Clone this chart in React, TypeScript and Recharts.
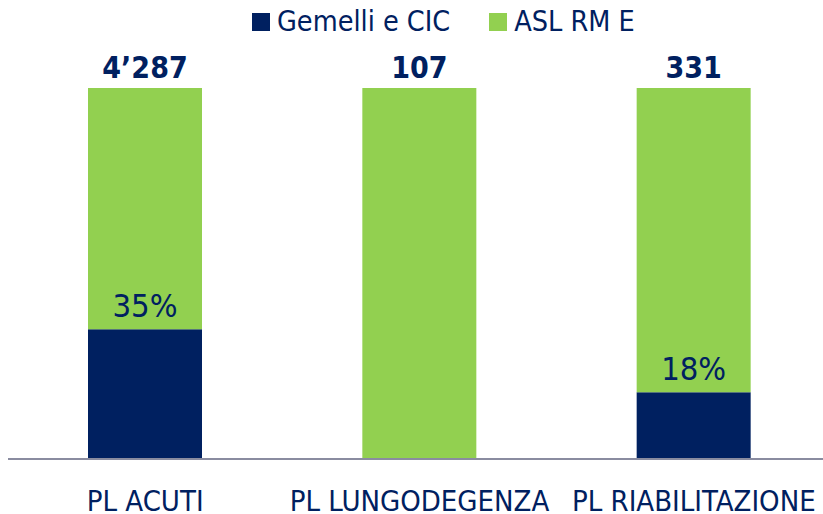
import { BarChart, Bar, XAxis, YAxis, Legend, LabelList } from "recharts";

const categories = ["PL ACUTI", "PL LUNGODEGENZA", "PL RIABILITAZIONE"];
const gemelliShare = [0.35, 0, 0.18];
const aslShare = [0.65, 1, 0.82];
const totals = ["4’287", "107", "331"];
const shareLabels = ["35%", "", "18%"];

const seriesNames = { gemelli: "Gemelli e CIC", asl: "ASL RM E" };

const NAVY = "#002060";
const GREEN = "#92d050";
const FONT = "'Liberation Sans Narrow', 'DejaVu Sans Condensed', Roboto, sans-serif";

const data = categories.map((name, i) => ({
  name,
  gemelli: gemelliShare[i],
  asl: aslShare[i],
  total: totals[i],
  pct: shareLabels[i],
}));

function LegendBox() {
  const items = [
    { label: seriesNames.gemelli, color: NAVY },
    { label: seriesNames.asl, color: GREEN },
  ];
  return (
    <div style={{ height: 88, position: "relative", fontFamily: FONT }}>
      <div style={{ position: "absolute", left: 252, top: 4, display: "flex", alignItems: "center", height: 36 }}>
        {items.map((it, i) => (
          <div key={it.label} style={{ display: "flex", alignItems: "center", marginRight: i === 0 ? 39 : 0 }}>
            <span style={{ width: 18, height: 18, background: it.color, display: "inline-block", marginRight: 7 }} />
            <span style={{ fontSize: 28.5, color: NAVY, lineHeight: "36px" }}>{it.label}</span>
          </div>
        ))}
      </div>
    </div>
  );
}

const TotalLabel = (props: any) => {
  const { x, y, width, index } = props;
  return (
    <text x={x + width / 2} y={y - 10} textAnchor="middle" fill={NAVY} fontSize={30} fontWeight="bold" fontFamily={FONT}>
      {totals[index]}
    </text>
  );
};

const PctLabel = (props: any) => {
  const { x, y, width, height, index } = props;
  if (!shareLabels[index]) return null;
  return (
    <text x={x + width / 2} y={y + height - 12} textAnchor="middle" fill={NAVY} fontSize={32.5} fontFamily={FONT}>
      {shareLabels[index]}
    </text>
  );
};

export default function App() {
  return (
    <div style={{ position: "absolute", left: 0, top: 0, width: 823, height: 514, overflow: "hidden" }}>
      <BarChart width={831} height={514} data={data} margin={{ top: 0, right: 0, left: 8, bottom: 0 }} barSize={114}>
        <Legend verticalAlign="top" content={() => <LegendBox />} wrapperStyle={{ top: 0, left: 0, width: 831 }} />
        <XAxis
          dataKey="name"
          height={55}
          tickLine={false}
          tickSize={0}
          tickMargin={31}
          axisLine={{ stroke: "#8a8ca0", strokeWidth: 2 }}
          tick={{ fill: NAVY, fontSize: 29, fontFamily: FONT }}
          interval={0}
        />
        <YAxis hide domain={[0, 1]} />
        <Bar dataKey="gemelli" stackId="a" fill={NAVY} isAnimationActive={false} />
        <Bar dataKey="asl" stackId="a" fill={GREEN} isAnimationActive={false}>
          <LabelList dataKey="total" content={TotalLabel} />
          <LabelList dataKey="pct" content={PctLabel} />
        </Bar>
      </BarChart>
    </div>
  );
}
